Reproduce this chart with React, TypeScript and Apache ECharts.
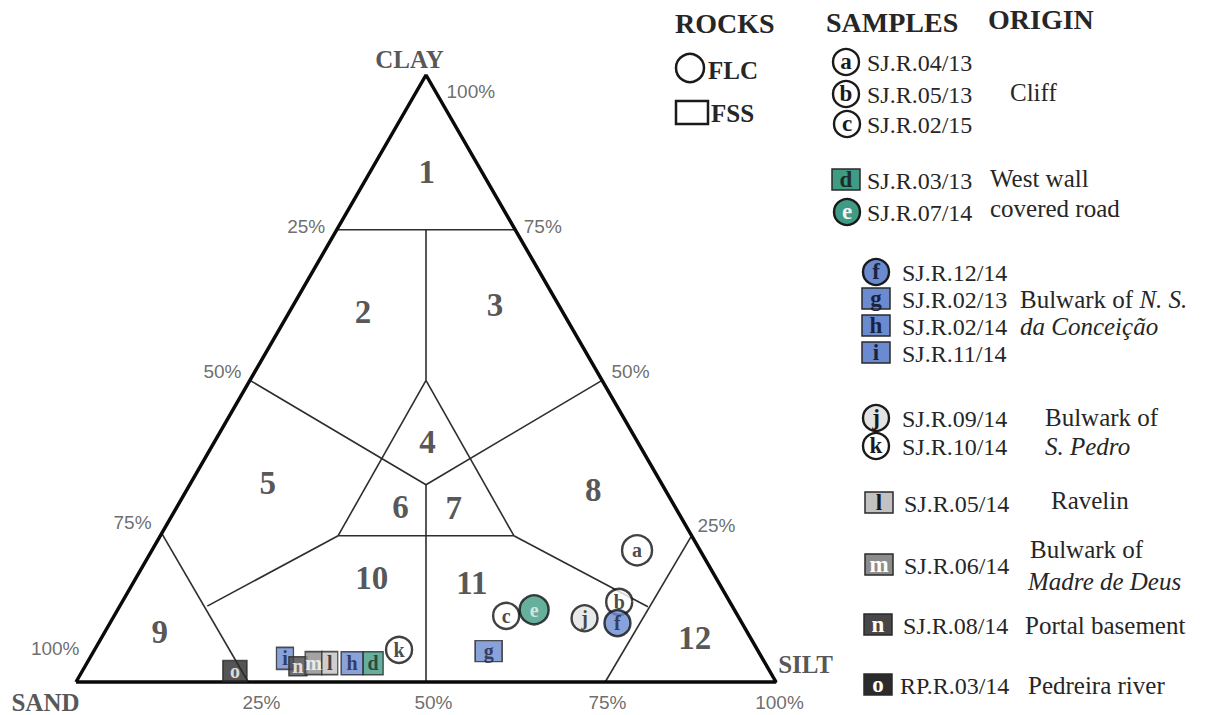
import React, { useEffect, useRef } from "react";
import * as echarts from "echarts";

// ---------- DATA (ternary: [sand, silt, clay] in %) ----------
const TRIANGLE: number[][] = [
  [100, 0, 0],
  [0, 100, 0],
  [0, 0, 100],
  [100, 0, 0],
];

const BOUNDARIES: number[][][] = [
  [[25.5, 0, 74.5], [0, 25.5, 74.5]],
  [[12.75, 12.75, 74.5], [25.15, 25.15, 49.7]],
  [[50.3, 0, 49.7], [33.75, 33.75, 32.5], [0, 50.3, 49.7]],
  [[25.15, 25.15, 49.7], [50.5, 25.4, 24.1]],
  [[25.15, 25.15, 49.7], [25.4, 50.5, 24.1]],
  [[50.5, 25.4, 24.1], [25.4, 50.5, 24.1]],
  [[33.75, 33.75, 32.5], [50, 50, 0]],
  [[50.5, 25.4, 24.1], [75, 12.5, 12.5]],
  [[25.4, 50.5, 24.1], [12.1, 75.5, 12.4]],
  [[75.5, 0, 24.5], [75.4, 24.6, 0]],
  [[0, 75.9, 24.1], [24.4, 75.6, 0]],
];

const REGION_NAMES = ["1", "2", "3", "4", "5", "6", "7", "8", "9", "10", "11", "12"];
const REGION_POS: number[][] = [
  [7.9, 8.1, 84.0],
  [28.5, 10.5, 61.0],
  [9.1, 28.8, 62.1],
  [30.0, 30.4, 39.6],
  [56.2, 11.0, 32.8],
  [39.2, 31.9, 28.9],
  [31.7, 39.6, 28.7],
  [10.3, 58.1, 31.6],
  [83.9, 7.8, 8.3],
  [49.2, 33.7, 17.1],
  [35.3, 48.4, 16.3],
  [8.0, 84.8, 7.2],
];

const SAMPLE_LETTERS = ["a", "b", "c", "d", "e", "f", "g", "h", "i", "j", "k", "l", "m", "n", "o"];
const SAMPLE_CODES = [
  "SJ.R.04/13", "SJ.R.05/13", "SJ.R.02/15", "SJ.R.03/13", "SJ.R.07/14",
  "SJ.R.12/14", "SJ.R.02/13", "SJ.R.02/14", "SJ.R.11/14", "SJ.R.09/14",
  "SJ.R.10/14", "SJ.R.05/14", "SJ.R.06/14", "SJ.R.08/14", "RP.R.03/14",
];
const SAMPLE_ROCK = ["FLC", "FLC", "FLC", "FSS", "FLC", "FLC", "FSS", "FSS", "FSS", "FLC", "FLC", "FSS", "FSS", "FSS", "FSS"];
const SAMPLE_SAND = [9.0, 15.8, 33.1, 56.0, 28.6, 17.8, 38.5, 59.0, 68.2, 22.1, 51.2, 62.2, 64.5, 67.0, 76.4];
const SAMPLE_SILT = [69.3, 71.0, 56.0, 40.9, 59.5, 72.5, 56.4, 37.9, 27.9, 67.4, 43.5, 34.7, 32.4, 30.4, 21.8];
const SAMPLE_CLAY = [21.7, 13.2, 10.9, 3.1, 11.9, 9.7, 5.1, 3.1, 3.9, 10.5, 5.3, 3.1, 3.1, 2.6, 1.8];
// drawing order on the chart (later on top)
const DRAW_ORDER = ["a", "b", "c", "e", "j", "f", "g", "k", "i", "n", "m", "l", "h", "d", "o"];

const ORIGINS = [
  "Cliff",
  "West wall",
  "covered road",
  "{n|Bulwark of }{i|N. S.}",
  "{i|da Conceição}",
  "Bulwark of",
  "{i|S. Pedro}",
  "Ravelin",
  "Bulwark of",
  "{i|Madre de Deus}",
  "Portal basement",
  "Pedreira river",
];

const CLAY_TICKS = ["100%", "75%", "50%", "25%"];
const CLAY_TICK_POS: number[][] = [[0, 0, 100], [0, 25.5, 74.5], [0, 50.3, 49.7], [0, 75.7, 24.3]];
const SAND_TICKS = ["25%", "50%", "75%", "100%"];
const SAND_TICK_POS: number[][] = [[25.5, 0, 74.5], [50.3, 0, 49.7], [75.7, 0, 24.3], [100, 0, 0]];
const SILT_TICKS = ["25%", "50%", "75%", "100%"];
const SILT_TICK_POS: number[][] = [[75, 25, 0], [50, 50, 0], [25, 75, 0], [0, 100, 0]];

const VERTEX_NAMES = ["CLAY", "SAND", "SILT"];
const VERTEX_POS: number[][] = [[0, 0, 100], [100, 0, 0], [0, 100, 0]];

// ---------- STYLES ----------
const TEAL = "#3f9b83";
const BLUE = "#6b8bd1";
const MARK: Record<string, { shape: string; fill: string; text: string; w: number; h: number }> = {
  a: { shape: "circle", fill: "#ffffff", text: "#1a1a1a", w: 30, h: 30 },
  b: { shape: "circle", fill: "#ffffff", text: "#1a1a1a", w: 26, h: 26 },
  c: { shape: "circle", fill: "#ffffff", text: "#1a1a1a", w: 26, h: 26 },
  d: { shape: "rect", fill: TEAL, text: "#1c2e28", w: 20, h: 23 },
  e: { shape: "circle", fill: TEAL, text: "#f2f2f2", w: 29, h: 29 },
  f: { shape: "circle", fill: BLUE, text: "#1b2240", w: 26, h: 26 },
  g: { shape: "rect", fill: BLUE, text: "#1b2240", w: 27, h: 21 },
  h: { shape: "rect", fill: BLUE, text: "#1b2240", w: 22, h: 23 },
  i: { shape: "rect", fill: BLUE, text: "#1b2240", w: 17, h: 22 },
  j: { shape: "circle", fill: "#e3e3e3", text: "#1a1a1a", w: 26, h: 26 },
  k: { shape: "circle", fill: "#ffffff", text: "#1a1a1a", w: 26, h: 26 },
  l: { shape: "rect", fill: "#c2c2c2", text: "#1a1a1a", w: 16, h: 23 },
  m: { shape: "rect", fill: "#8c8c8c", text: "#ffffff", w: 17, h: 23 },
  n: { shape: "rect", fill: "#474747", text: "#ffffff", w: 18, h: 19 },
  o: { shape: "rect", fill: "#2b2b2b", text: "#ffffff", w: 24, h: 21 },
};

const toXY = (p: number[]) => [p[1] + p[2] / 2, p[2]];

const SERIF = "'Liberation Serif', 'DejaVu Serif', serif";
const SANS = "'Liberation Sans', Arial, sans-serif";

export default function App() {
  const ref = useRef<HTMLDivElement>(null);

  useEffect(() => {
    if (!ref.current) return;
    const chart = echarts.init(ref.current, undefined, { renderer: "svg" });

    const series: any[] = [];

    series.push({
      type: "line",
      data: TRIANGLE.map(toXY),
      symbol: "none",
      clip: false,
      lineStyle: { color: "#0a0a0a", width: 3.5 },
      z: 3,
    });

    BOUNDARIES.forEach((b) => {
      series.push({
        type: "line",
        data: b.map(toXY),
        symbol: "none",
        clip: false,
        lineStyle: { color: "#2e2e2e", width: 1.6 },
        z: 2,
      });
    });

    series.push({
      type: "scatter",
      symbolSize: 1,
      itemStyle: { color: "rgba(0,0,0,0)" },
      silent: true,
      data: REGION_NAMES.map((n, i) => ({ value: toXY(REGION_POS[i]), name: n })),
      label: {
        show: true,
        position: "inside",
        formatter: (p: any) => p.name,
        fontFamily: SERIF,
        fontWeight: "bold",
        fontSize: 33,
        color: "#2a2a2a",
      },
      z: 4,
    });

    const tickLabel = (txt: string[], pos: number[][], offs: number[][], align: string) => ({
      type: "scatter",
      symbolSize: 1,
      itemStyle: { color: "rgba(0,0,0,0)" },
      silent: true,
      data: txt.map((t, i) => ({
        value: toXY(pos[i]),
        name: t,
        label: { position: offs[i] },
      })),
      label: {
        show: true,
        formatter: (p: any) => p.name,
        fontFamily: SANS,
        fontSize: 19,
        color: "#474747",
        align,
        verticalAlign: "middle",
      },
      z: 4,
    });

    series.push(tickLabel(CLAY_TICKS, CLAY_TICK_POS, [[21, 17], [9, -3], [10, -8], [7, -8]], "left"));
    series.push(tickLabel(SAND_TICKS, SAND_TICK_POS, [[-11, -3], [-8, -8], [-9, -11], [4, -33]], "right"));
    series.push(tickLabel(SILT_TICKS, SILT_TICK_POS, [[11, 21], [8, 21], [7, 21], [4, 21]], "center"));

    series.push({
      type: "scatter",
      symbolSize: 1,
      itemStyle: { color: "rgba(0,0,0,0)" },
      silent: true,
      data: VERTEX_NAMES.map((n, i) => ({
        value: toXY(VERTEX_POS[i]),
        name: n,
        label: { position: [[-16, -15], [-30, 21], [30, -17]][i] },
      })),
      label: {
        show: true,
        formatter: (p: any) => p.name,
        fontFamily: SERIF,
        fontWeight: "bold",
        fontSize: 25,
        color: "#2a2a2a",
        align: "center",
        verticalAlign: "middle",
      },
      z: 4,
    });

    series.push({
      type: "scatter",
      silent: true,
      data: DRAW_ORDER.map((l) => {
        const i = SAMPLE_LETTERS.indexOf(l);
        const m = MARK[l];
        const isC = m.shape === "circle";
        return {
          value: toXY([SAMPLE_SAND[i], SAMPLE_SILT[i], SAMPLE_CLAY[i]]),
          name: l,
          symbol: m.shape,
          symbolSize: [m.w, m.h],
          itemStyle: {
            color: m.fill,
            borderColor: isC ? "#111" : "#2a2a2a",
            borderWidth: isC ? 2.4 : 1.5,
          },
          label: { color: m.text },
        };
      }),
      label: {
        show: true,
        position: "inside",
        formatter: (p: any) => p.name,
        fontFamily: SERIF,
        fontWeight: "bold",
        fontSize: 20,
        lineHeight: 17,
        verticalAlign: "middle",
      },
      z: 6,
    });

    // ---------- legend (graphic) ----------
    const g: any[] = [];
    const txt = (t: string, x: number, y: number, size: number, bold = false, align = "left") => ({
      type: "text",
      style: {
        text: t,
        x,
        y,
        fill: "#262626",
        fontFamily: SERIF,
        fontSize: size,
        fontWeight: bold ? "bold" : "normal",
        align,
        verticalAlign: "middle",
        rich: {
          n: { fontFamily: SERIF, fontSize: size, fill: "#262626" },
          i: { fontFamily: SERIF, fontSize: size, fontStyle: "italic", fill: "#262626" },
        },
      },
    });
    g.push(txt("ROCKS", 675, 23, 28, true));
    g.push({ type: "circle", shape: { cx: 690, cy: 68, r: 14 }, style: { fill: "#fff", stroke: "#1a1a1a", lineWidth: 2.5 } });
    g.push(txt("FLC", 708, 70, 25, true));
    g.push({ type: "rect", shape: { x: 676, y: 101, width: 32, height: 23 }, style: { fill: "#fff", stroke: "#1a1a1a", lineWidth: 2.5 } });
    g.push(txt("FSS", 711, 113, 25, true));
    g.push(txt("SAMPLES", 826, 22, 28, true));
    g.push(txt("ORIGIN", 988, 19, 28, true));

    const ROW_Y = [62, 94, 124, 180, 212, 272, 299, 326, 353, 418, 446, 503, 565, 625, 685];
    const ROW_X = [846, 846, 847, 846, 847, 876, 876, 876, 876, 876, 876, 879, 879, 878, 878];
    const CODE_X = [867, 867, 867, 867, 867, 902, 902, 902, 902, 902, 902, 904, 904, 903, 900];
    SAMPLE_LETTERS.forEach((l, i) => {
      const m = MARK[l];
      const y = ROW_Y[i];
      const x = ROW_X[i];
      if (SAMPLE_ROCK[i] === "FLC") {
        g.push({ type: "circle", shape: { cx: x, cy: y, r: 13 }, style: { fill: m.fill, stroke: "#1a1a1a", lineWidth: 2.4 } });
      } else {
        g.push({ type: "rect", shape: { x: x - 14, y: y - 11, width: 28, height: 21 }, style: { fill: m.fill, stroke: "#2a2a2a", lineWidth: 1.5 } });
      }
      g.push({
        type: "text",
        style: {
          text: l, x, y: y - 1, fill: m.text, fontFamily: SERIF, fontWeight: "bold",
          fontSize: 23, align: "center", verticalAlign: "middle",
        },
      });
      g.push(txt(SAMPLE_CODES[i], CODE_X[i], y + 1, 24));
    });

    const ORIGIN_POS = [
      [1010, 92], [990, 178], [990, 208], [1020, 299], [1020, 326],
      [1045, 417], [1045, 446], [1051, 500], [1030, 549], [1028, 581],
      [1025, 625], [1028, 685],
    ];
    ORIGINS.forEach((o, i) => g.push(txt(o, ORIGIN_POS[i][0], ORIGIN_POS[i][1], 25)));

    chart.setOption({
      animation: false,
      backgroundColor: "#ffffff",
      grid: { left: 76, top: 75, width: 700, height: 607 },
      xAxis: { type: "value", min: 0, max: 100, show: false },
      yAxis: { type: "value", min: 0, max: 100, show: false },
      series,
      graphic: g,
    });

    return () => chart.dispose();
  }, []);

  return (
    <div
      ref={ref}
      style={{ position: "fixed", left: 0, top: 0, width: 1232, height: 715, background: "#fff" }}
    />
  );
}
